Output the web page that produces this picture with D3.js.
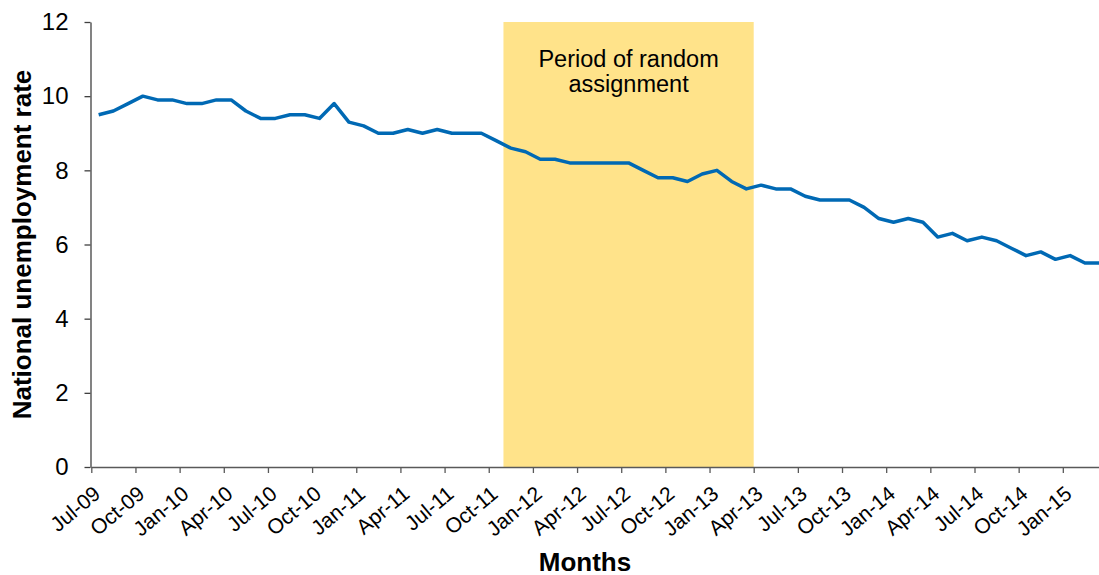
<!DOCTYPE html>
<html>
<head>
<meta charset="utf-8">
<script src="https://cdn.jsdelivr.net/npm/d3@7"></script>
<style>
  body { margin: 0; background: #fff; }
  svg { display: block; font-family: "Liberation Sans", Arial, sans-serif; }
</style>
</head>
<body>
<svg id="chart" width="1099" height="575"></svg>
<script>
// monthly months, Jul-09 .. Mar-15
var months = [
  "Jul-09", "Aug-09", "Sep-09", "Oct-09", "Nov-09", "Dec-09",
  "Jan-10", "Feb-10", "Mar-10", "Apr-10", "May-10", "Jun-10",
  "Jul-10", "Aug-10", "Sep-10", "Oct-10", "Nov-10", "Dec-10",
  "Jan-11", "Feb-11", "Mar-11", "Apr-11", "May-11", "Jun-11",
  "Jul-11", "Aug-11", "Sep-11", "Oct-11", "Nov-11", "Dec-11",
  "Jan-12", "Feb-12", "Mar-12", "Apr-12", "May-12", "Jun-12",
  "Jul-12", "Aug-12", "Sep-12", "Oct-12", "Nov-12", "Dec-12",
  "Jan-13", "Feb-13", "Mar-13", "Apr-13", "May-13", "Jun-13",
  "Jul-13", "Aug-13", "Sep-13", "Oct-13", "Nov-13", "Dec-13",
  "Jan-14", "Feb-14", "Mar-14", "Apr-14", "May-14", "Jun-14",
  "Jul-14", "Aug-14", "Sep-14", "Oct-14", "Nov-14", "Dec-14",
  "Jan-15", "Feb-15", "Mar-15"
];

var unemployment = [
  9.5, 9.6, 9.8, 10.0, 9.9, 9.9,
  9.8, 9.8, 9.9, 9.9, 9.6, 9.4,
  9.4, 9.5, 9.5, 9.4, 9.8, 9.3,
  9.2, 9.0, 9.0, 9.1, 9.0, 9.1,
  9.0, 9.0, 9.0, 8.8, 8.6, 8.5,
  8.3, 8.3, 8.2, 8.2, 8.2, 8.2,
  8.2, 8.0, 7.8, 7.8, 7.7, 7.9,
  8.0, 7.7, 7.5, 7.6, 7.5, 7.5,
  7.3, 7.2, 7.2, 7.2, 7.0, 6.7,
  6.6, 6.7, 6.6, 6.2, 6.3, 6.1,
  6.2, 6.1, 5.9, 5.7, 5.8, 5.6,
  5.7, 5.5, 5.5
];

var tickLabels = [
  "Jul-09", "Oct-09", "Jan-10", "Apr-10", "Jul-10", "Oct-10",
  "Jan-11", "Apr-11", "Jul-11", "Oct-11", "Jan-12", "Apr-12",
  "Jul-12", "Oct-12", "Jan-13", "Apr-13", "Jul-13", "Oct-13",
  "Jan-14", "Apr-14", "Jul-14", "Oct-14", "Jan-15"
];

var yTicks = [0, 2, 4, 6, 8, 10, 12];

var shadeFrom = "Nov-11",
  shadeTo = "Apr-13";
var shadeText = ["Period of random", "assignment"];

var svg = d3.select("#chart");

var plotLeft = 91.3,
  plotTop = 22,
  plotBottom = 467,
  step = 14.72;

// one band per month, ticks sit on the band edges
var x = d3
  .scaleBand()
  .domain(months)
  .range([plotLeft, plotLeft + months.length * step])
  .padding(0);

var xEdge = d3
  .scaleLinear()
  .domain([0, months.length])
  .range([plotLeft, plotLeft + months.length * step]);

var y = d3.scaleLinear().domain([0, 12]).range([plotBottom, plotTop]);

// shaded period
var shadeMid = x(shadeFrom) + (x(shadeTo) - x(shadeFrom)) / 2;
svg
  .append("rect")
  .attr("x", x(shadeFrom))
  .attr("y", y(12))
  .attr("width", x(shadeTo) - x(shadeFrom))
  .attr("height", y(0) - y(12))
  .attr("fill", "#FFE38A");

svg
  .append("text")
  .attr("x", shadeMid)
  .attr("y", 67)
  .attr("text-anchor", "middle")
  .style("font-size", "23.5px")
  .attr("fill", "#000")
  .selectAll("tspan")
  .data(shadeText)
  .enter()
  .append("tspan")
  .attr("x", shadeMid)
  .attr("dy", function (d, i) {
    return i === 0 ? 0 : 25;
  })
  .text(function (d) {
    return d;
  });

// line
var line = d3
  .line()
  .x(function (d, i) {
    return x(months[i]) + x.bandwidth() / 2;
  })
  .y(function (d) {
    return y(d);
  });

svg
  .append("path")
  .datum(unemployment)
  .attr("d", line)
  .attr("fill", "none")
  .attr("stroke", "#0069B4")
  .attr("stroke-width", 3.5)
  .attr("stroke-linejoin", "round");

// y axis
var yAxis = svg
  .append("g")
  .attr("transform", "translate(" + (plotLeft - 0.8) + ",0)")
  .call(d3.axisLeft(y).tickValues(yTicks).tickSize(6).tickPadding(16).tickSizeOuter(0));
yAxis.select(".domain").attr("stroke", "#404040").attr("stroke-width", 1.3);
yAxis.selectAll(".tick line").attr("stroke", "#404040").attr("stroke-width", 1.3);
yAxis
  .selectAll(".tick text")
  .style("font-size", "24px")
  .style("font-family", "Liberation Sans, Arial, sans-serif")
  .attr("fill", "#000");

// x axis
var xAxis = svg
  .append("g")
  .attr("transform", "translate(0," + plotBottom + ")")
  .call(
    d3
      .axisBottom(xEdge)
      .tickValues(d3.range(0, months.length, 3))
      .tickFormat(function (d, i) {
        return tickLabels[i];
      })
      .tickSize(6)
      .tickSizeOuter(0)
  );
xAxis.select(".domain").attr("stroke", "#595959").attr("stroke-width", 1.5);
xAxis.selectAll(".tick line").attr("stroke", "#595959").attr("stroke-width", 1.3);
xAxis
  .selectAll(".tick text")
  .style("font-size", "21px")
  .style("font-family", "Liberation Sans, Arial, sans-serif")
  .attr("fill", "#000")
  .attr("text-anchor", "end")
  .attr("x", 0)
  .attr("y", 0)
  .attr("dy", 0)
  .attr("transform", "translate(10,29) rotate(-40)");

// axis titles
svg
  .append("text")
  .attr("transform", "translate(31," + (plotTop + plotBottom) / 2 + ") rotate(-90)")
  .attr("text-anchor", "middle")
  .style("font-size", "26px")
  .style("font-weight", "bold")
  .text("National unemployment rate");

svg
  .append("text")
  .attr("x", 585)
  .attr("y", 571)
  .attr("text-anchor", "middle")
  .style("font-size", "26px")
  .style("font-weight", "bold")
  .text("Months");
</script>
</body>
</html>
